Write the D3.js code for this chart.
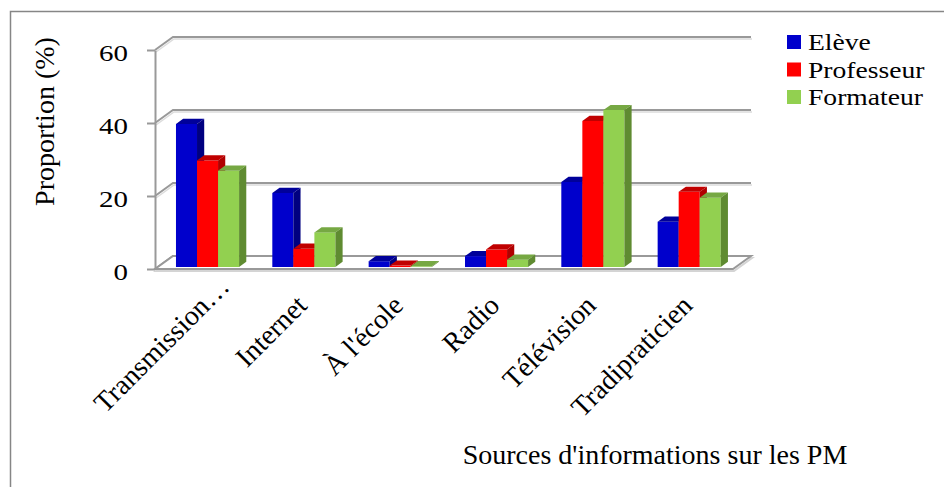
<!DOCTYPE html>
<meta charset="utf-8">
<style>
body { margin: 0; background: #fff; }
svg text { font-family: "Liberation Serif", "Times New Roman", Times, serif; fill: #000; }
.axis .domain { stroke: #999; stroke-width: 2; }
.axis line { stroke: #999; stroke-width: 2; }
</style>
<svg width="944" height="487"></svg>
<script src="https://cdnjs.cloudflare.com/ajax/libs/d3/7.8.5/d3.min.js"></script>
<script>
var categories = ["Transmission…", "Internet", "À l'école", "Radio", "Télévision", "Tradipraticien"];
var series = ["Elève", "Professeur", "Formateur"];
var eleve = [39.2, 20.3, 1.6, 3.0, 23.3, 12.4];
var professeur = [29.2, 5.0, 0.4, 4.8, 40.0, 20.6];
var formateur = [26.4, 9.5, 0.2, 2.0, 43.0, 19.0];
var yTicks = [0, 20, 40, 60];

var values = [eleve, professeur, formateur];
var front = {"Elève": "#0000cc", "Professeur": "#ff0000", "Formateur": "#92d050"};
var topc = {"Elève": "#00009a", "Professeur": "#c00000", "Formateur": "#76a843"};
var side = {"Elève": "#000080", "Professeur": "#b00000", "Formateur": "#5f8b31"};
var serif = "'Liberation Serif', 'Times New Roman', Times, serif";

var svg = d3.select("svg");

// chart frame
svg.append("rect")
    .attr("x", 10.5).attr("y", 11.5)
    .attr("width", 960).attr("height", 500)
    .attr("fill", "none").attr("stroke", "#868686").attr("stroke-width", 1.5);

var left = 155, right = 733,
    depthX = 18, depthY = -13,   // full floor depth
    d0 = 0.15, d1 = 0.55;        // bars sit in this slice of the depth

var y = d3.scaleLinear().domain([0, 60]).range([269, 50]);

var x0 = d3.scaleBand().domain(categories).range([left, right]).paddingInner(0);
var x1 = d3.scaleBand().domain(series).range([0, x0.bandwidth()])
    .paddingInner(0).paddingOuter(0.79).align(0.55);

var grid = svg.append("g");

// back wall + left wall gridlines
yTicks.forEach(function(t) {
  var pts = [[left, y(t)], [left + depthX, y(t) + depthY], [right + depthX, y(t) + depthY]];
  grid.append("path")
      .attr("d", d3.line()(pts.map(p => [p[0] + 1, p[1] + 2])))
      .attr("fill", "none").attr("stroke", "#dcdcdc").attr("stroke-width", 1.5);
  grid.append("path")
      .attr("d", d3.line()(pts))
      .attr("fill", "none").attr("stroke", "#999").attr("stroke-width", 2);
});

// floor
var floor = [[left, y(0)], [right, y(0)], [right + depthX, y(0) + depthY], [left + depthX, y(0) + depthY]];
grid.append("path")
    .attr("d", d3.line()(floor.map(p => [p[0] + 1, p[1] + 2])) + "Z")
    .attr("fill", "none").attr("stroke", "#d4d4d4").attr("stroke-width", 2);
grid.append("path")
    .attr("d", d3.line()(floor) + "Z")
    .attr("fill", "#fff").attr("stroke", "#999").attr("stroke-width", 2);

// bars (left to right so that the next front face hides the previous side)
var bars = [];
categories.forEach(function(c, i) {
  series.forEach(function(s, j) {
    bars.push({cat: c, key: s, value: values[j][i]});
  });
});

var sdx = (d1 - d0) * depthX, sdy = (d1 - d0) * depthY;

var bar = svg.append("g").selectAll("g")
    .data(bars)
    .enter().append("g");

function geom(d) {
  var fx = x0(d.cat) + x1(d.key) + d0 * depthX,
      w = x1.bandwidth(),
      yt = y(d.value) + d0 * depthY,
      yb = y(0) + d0 * depthY;
  return {fx: fx, w: w, yt: yt, yb: yb};
}

bar.append("path")
    .attr("d", function(d) {
      var g = geom(d);
      return d3.line()([[g.fx, g.yb], [g.fx, g.yt], [g.fx + g.w, g.yt], [g.fx + g.w, g.yb]]) + "Z";
    })
    .attr("fill", d => front[d.key]);

bar.append("path")
    .attr("d", function(d) {
      var g = geom(d);
      return d3.line()([[g.fx, g.yt], [g.fx + sdx, g.yt + sdy], [g.fx + g.w + sdx, g.yt + sdy], [g.fx + g.w, g.yt]]) + "Z";
    })
    .attr("fill", d => topc[d.key]);

bar.append("path")
    .attr("d", function(d) {
      var g = geom(d);
      return d3.line()([[g.fx + g.w, g.yt], [g.fx + g.w + sdx, g.yt + sdy], [g.fx + g.w + sdx, g.yb + sdy], [g.fx + g.w, g.yb]]) + "Z";
    })
    .attr("fill", d => side[d.key]);

// y axis
var yAxis = svg.append("g")
    .attr("class", "axis")
    .attr("font-family", serif)
    .attr("transform", "translate(" + left + ",0)")
    .call(d3.axisLeft(y).tickValues(yTicks).tickSize(8).tickSizeOuter(0));
yAxis.selectAll(".tick text")
    .attr("x", -27 / 1.26)
    .attr("dy", null)
    .attr("y", 10)
    .attr("transform", "scale(1.26,1)")
    .style("font-size", "23px")
    .style("font-family", serif);

// x axis labels
var xAxis = svg.append("g")
    .attr("class", "axis")
    .attr("font-family", serif)
    .attr("transform", "translate(0," + y(0) + ")")
    .call(d3.axisBottom(x0).tickSize(0));
xAxis.select(".domain").remove();
xAxis.selectAll(".tick text")
    .attr("y", null).attr("dy", null)
    .attr("text-anchor", "end")
    .attr("transform", "translate(9,38) rotate(-45)")
    .attr("dx", d => d.endsWith("…") ? "0.95em" : 0)
    .style("font-size", "28px")
    .style("font-family", serif);

// axis titles
svg.append("text")
    .attr("transform", "translate(54,121.5) rotate(-90)")
    .attr("text-anchor", "middle")
    .style("font-size", "28px")
    .style("font-family", serif)
    .text("Proportion (%)");

svg.append("text")
    .attr("x", 655).attr("y", 464)
    .attr("text-anchor", "middle")
    .style("font-size", "28px")
    .style("font-family", serif)
    .text("Sources d'informations sur les PM");

// legend
var legend = svg.append("g").selectAll("g")
    .data(series)
    .enter().append("g")
      .attr("transform", (d, i) => "translate(787," + (35 + i * 27.5) + ")");
legend.append("rect")
    .attr("width", 14).attr("height", 14)
    .attr("fill", d => front[d]);
legend.append("text")
    .attr("transform", "translate(21,15) scale(1.2,1)")
    .style("font-size", "23px")
    .style("font-family", serif)
    .text(d => d);
</script>
